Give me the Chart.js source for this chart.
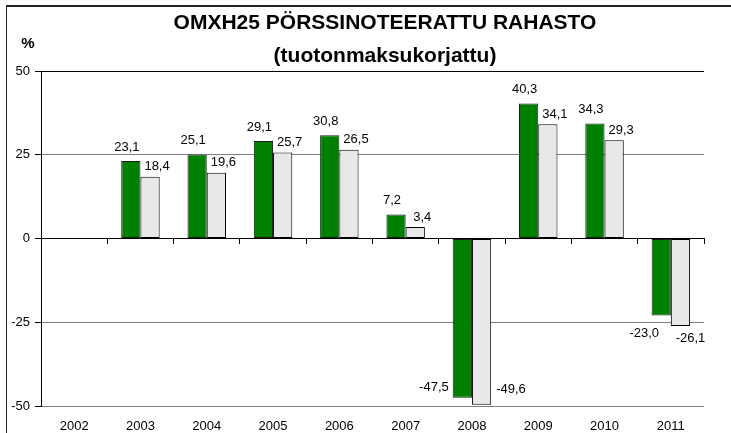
<!DOCTYPE html>
<html><head><meta charset="utf-8">
<script src="https://cdn.jsdelivr.net/npm/chart.js@4/dist/chart.umd.min.js"></script>
<style>html,body{margin:0;padding:0;background:#fff;}#wrap{width:731px;height:433px;}</style>
</head><body><div id="wrap"><canvas id="c" width="731" height="433"></canvas></div>
<script>
const years = ['2002','2003','2004','2005','2006','2007','2008','2009','2010','2011'];
const seriesGreen = [null, 23.1, 25.1, 29.1, 30.8, 7.2, -47.5, 40.3, 34.3, -23.0];
const seriesGrey  = [null, 18.4, 19.6, 25.7, 26.5, 3.4, -49.6, 34.1, 29.3, -26.1];
const yTickValues = [-50, -25, 0, 25, 50];
const titleLine1 = 'OMXH25 PÖRSSINOTEERATTU RAHASTO';
const titleLine2 = '(tuotonmaksukorjattu)';
const unitLabel = '%';

const FONT = '"Liberation Sans", Arial, sans-serif';
const fmt = v => v.toFixed(1).replace('.', ',');

const framePlugin = {
  id: 'frame',
  beforeDraw(chart) {
    const ctx = chart.ctx;
    ctx.save();
    ctx.fillStyle = '#fff';
    ctx.fillRect(0, 0, chart.width, chart.height);
    ctx.strokeStyle = '#222';
    ctx.lineWidth = 2;
    ctx.beginPath(); ctx.moveTo(6, 6); ctx.lineTo(chart.width, 6); ctx.stroke();
    ctx.lineWidth = 1;
    ctx.beginPath(); ctx.moveTo(6.5, 6); ctx.lineTo(6.5, chart.height); ctx.stroke();
    ctx.restore();
  },
  afterDraw(chart) {
    const ctx = chart.ctx;
    ctx.save();
    ctx.fillStyle = '#000';
    ctx.textAlign = 'center';
    ctx.textBaseline = 'middle';
    ctx.font = 'bold 21px ' + FONT;
    ctx.fillText(titleLine1, 385, 23);
    ctx.fillText(titleLine2, 385, 56);
    ctx.font = 'bold 15px ' + FONT;
    ctx.fillText(unitLabel, 28, 44);
    ctx.restore();
  }
};

const labelPlugin = {
  id: 'barLabels',
  afterDatasetsDraw(chart) {
    const ctx = chart.ctx;
    const area = chart.chartArea;
    ctx.save();
    ctx.font = '13px ' + FONT;
    ctx.fillStyle = '#000';
    ctx.textBaseline = 'middle';
    chart.data.datasets.forEach((ds, i) => {
      const meta = chart.getDatasetMeta(i);
      meta.data.forEach((bar, j) => {
        const v = ds.data[j];
        if (v === null || v === undefined) return;
        const p = bar.getProps(['x', 'y', 'base', 'width'], true);
        const txt = fmt(v);
        const left = p.x - p.width / 2, right = p.x + p.width / 2;
        if (v >= 0) {
          ctx.textAlign = 'center';
          if (i === 0) ctx.fillText(txt, p.x - 4, p.y - 14);
          else ctx.fillText(txt, p.x + 7, p.y - 10);
        } else if (area.bottom - p.y < 25) {
          if (i === 0) { ctx.textAlign = 'right'; ctx.fillText(txt, left - 4, p.y - 10); }
          else { ctx.textAlign = 'left'; ctx.fillText(txt, right + 5, p.y - 15); }
        } else {
          ctx.textAlign = 'center';
          if (i === 0) ctx.fillText(txt, p.x - 17, p.y + 18);
          else ctx.fillText(txt, p.x + 10, p.y + 12);
        }
      });
    });
    ctx.restore();
  }
};

new Chart(document.getElementById('c'), {
  type: 'bar',
  data: {
    labels: years,
    datasets: [
      { data: seriesGreen, backgroundColor: '#008000', borderColor: '#1a1a1a', borderWidth: 1, borderSkipped: false,
        barPercentage: 1, categoryPercentage: 0.58 },
      { data: seriesGrey, backgroundColor: '#e8e8e8', borderColor: '#000', borderWidth: 1, borderSkipped: false,
        barPercentage: 1, categoryPercentage: 0.58 }
    ]
  },
  options: {
    responsive: false,
    animation: false,
    devicePixelRatio: 1,
    layout: { padding: { top: 71, right: 27, left: 0, bottom: 0 } },
    plugins: { legend: { display: false }, tooltip: { enabled: false }, title: { display: false } },
    scales: {
      x: {
        type: 'category',
        offset: true,
        grid: { display: false, drawTicks: false },
        border: { display: false },
        ticks: { color: '#000', font: { family: FONT, size: 13 }, padding: 13, maxRotation: 0 },
        afterFit(s) { s.height = 27; }
      },
      x2: {
        type: 'category',
        axis: 'x',
        labels: years,
        position: { y: 0 },
        offset: true,
        grid: { display: true, offset: true, drawOnChartArea: false, drawTicks: true, tickLength: 5, color: '#000' },
        border: { display: true, color: '#000', width: 1 },
        ticks: { display: false }
      },
      y: {
        min: -50, max: 50,
        afterBuildTicks(s) { s.ticks = yTickValues.map(v => ({ value: v })); },
        grid: {
          color: c => (c.tick && (c.tick.value === 50 || c.tick.value === 0)) ? '#000' : '#808080',
          tickColor: '#000', tickLength: 6, lineWidth: 1
        },
        border: { display: true, color: '#000', width: 1 },
        ticks: { color: '#000', font: { family: FONT, size: 13 }, padding: 5, callback: v => String(v) },
        afterFit(s) { s.width = 41; }
      }
    }
  },
  plugins: [framePlugin, labelPlugin]
});
</script></body></html>
